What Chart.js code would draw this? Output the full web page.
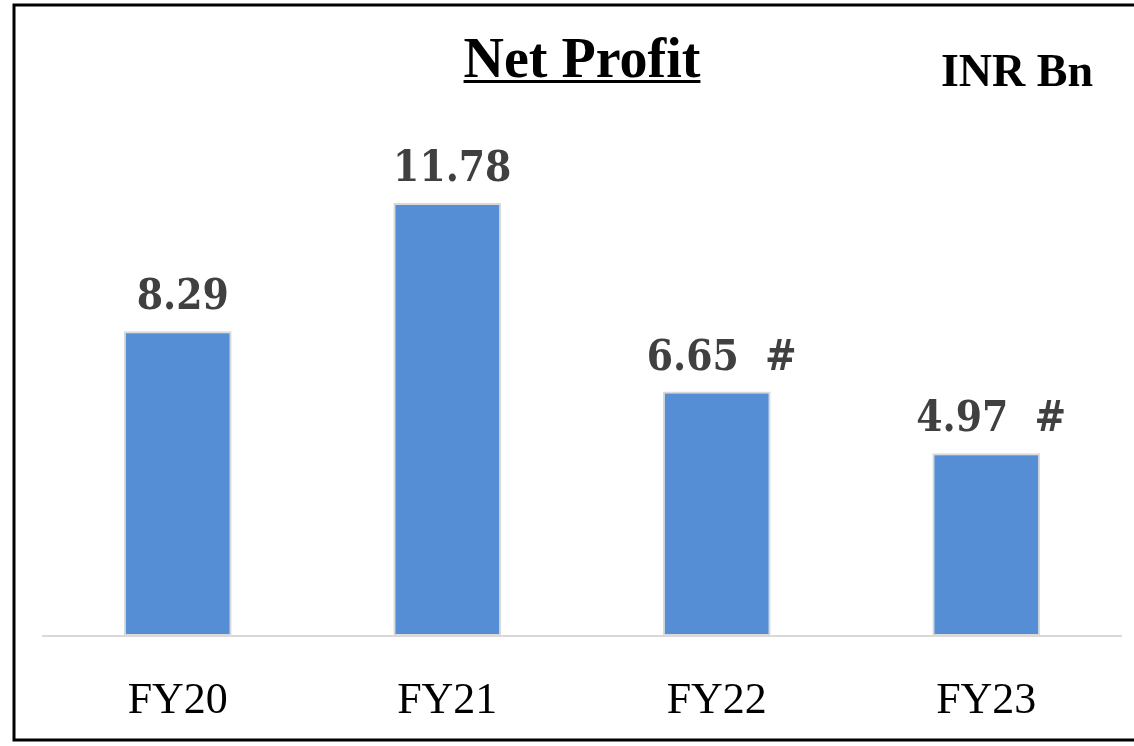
<!DOCTYPE html>
<html>
<head>
<meta charset="utf-8">
<script src="https://cdn.jsdelivr.net/npm/chart.js@4"></script>
<style>
    html, body { margin: 0; padding: 0; background: #ffffff; overflow: hidden; }
    #wrap { position: relative; width: 1134px; height: 746px; }
</style>
</head>
<body>
<div id="wrap"><canvas id="profitChart" width="1134" height="746"></canvas></div>
<script>
// Chart data
const categories = ['FY20', 'FY21', 'FY22', 'FY23'];
const netProfit = [8.29, 11.78, 6.65, 4.97];
const labelNotes = ['', '', '#', '#'];
const chartTitle = 'Net Profit';
const unitText = 'INR Bn';

// Frame, title and value labels
const decorPlugin = {
    id: 'decor',
    afterDraw(chart) {
        const ctx = chart.ctx;
        ctx.save();

        // outer frame (right side runs off the picture)
        ctx.strokeStyle = '#000000';
        ctx.lineWidth = 3;
        ctx.beginPath();
        ctx.moveTo(1140, 5);
        ctx.lineTo(14, 5);
        ctx.lineTo(14, 740);
        ctx.lineTo(1140, 740);
        ctx.stroke();

        // title, underlined
        ctx.fillStyle = '#000000';
        ctx.font = 'bold 56px "Liberation Serif"';
        ctx.textAlign = 'center';
        ctx.textBaseline = 'alphabetic';
        ctx.fillText(chartTitle, 582, 77);
        const w = ctx.measureText(chartTitle).width;
        ctx.fillRect(582 - w / 2, 80, w, 3);

        // unit
        ctx.font = 'bold 46px "Liberation Serif"';
        ctx.fillText(unitText, 1017, 86);

        // value labels above the bars
        const meta = chart.getDatasetMeta(0);
        ctx.fillStyle = '#404040';
        ctx.font = 'bold 42px "DejaVu Serif Condensed", "DejaVu Serif"';
        meta.data.forEach((bar, i) => {
            let txt = netProfit[i].toFixed(2);
            if (labelNotes[i]) txt += '  ' + labelNotes[i];
            ctx.fillText(txt, bar.x + 5, bar.y - 22);
        });

        ctx.restore();
    }
};

const ctx = document.getElementById('profitChart').getContext('2d');
const chart = new Chart(ctx, {
    type: 'bar',
    data: {
        labels: categories,
        datasets: [{
            label: chartTitle,
            data: netProfit,
            backgroundColor: '#558ed5',
            borderColor: '#d9d9d9',
            borderWidth: 2,
            borderSkipped: false,
            barPercentage: 0.4,
            categoryPercentage: 1.0
        }]
    },
    options: {
        responsive: false,
        animation: false,
        layout: {
            padding: { top: 121.5, left: 43, right: 13, bottom: 21 }
        },
        plugins: {
            legend: { display: false },
            title: { display: false },
            tooltip: { enabled: false }
        },
        scales: {
            x: {
                grid: { display: false },
                border: { display: true, color: '#d9d9d9', width: 2 },
                ticks: {
                    color: '#000000',
                    padding: 31,
                    maxRotation: 0,
                    font: { family: '"Liberation Serif"', size: 44 }
                },
                afterFit: scale => { scale.height = 89; }
            },
            y: {
                display: false,
                min: 0,
                max: 14
            }
        }
    },
    plugins: [decorPlugin]
});
</script>
</body>
</html>
